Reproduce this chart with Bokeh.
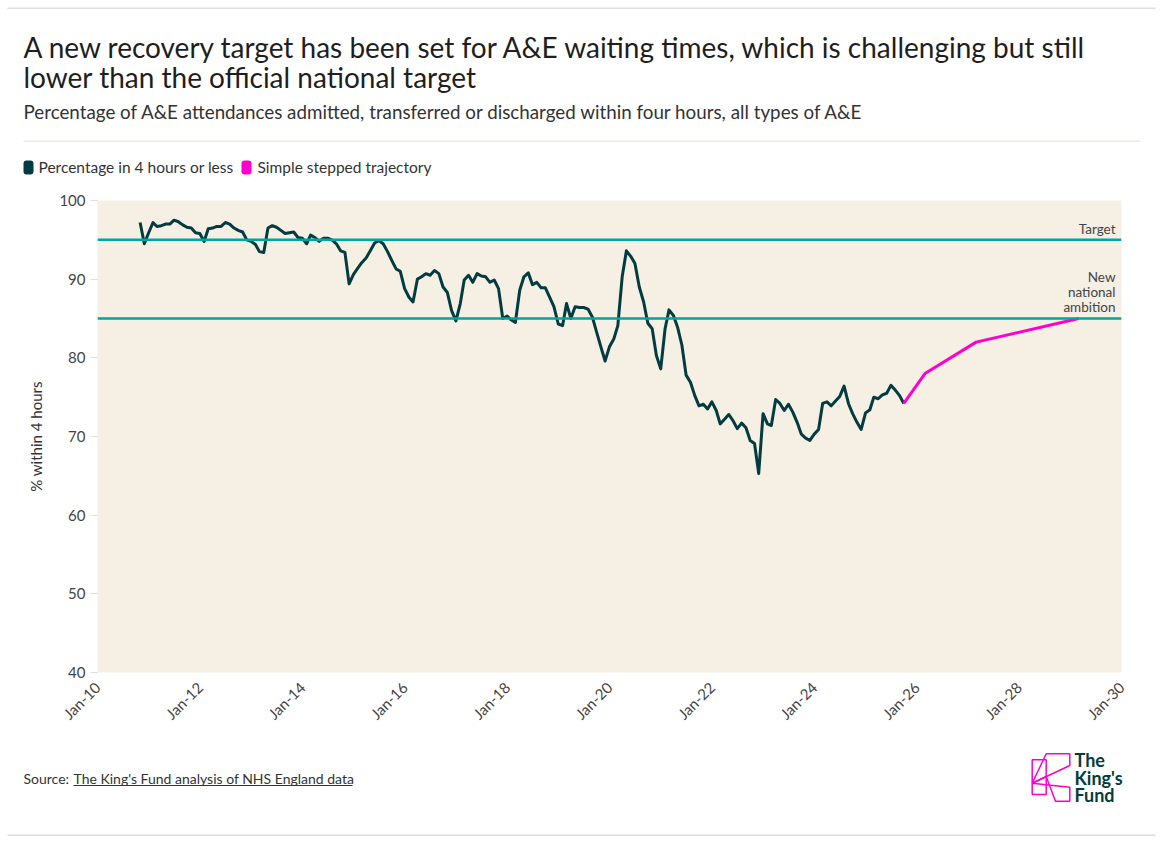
import pandas as pd
from math import pi
from bokeh.plotting import figure
from bokeh.layouts import column
from bokeh.core.properties import value
from bokeh.models import (Span, FixedTicker, DatetimeTickFormatter, Range1d,
                          ColumnDataSource)
from bokeh.embed import file_html
from bokeh.resources import INLINE

# Monthly % of A&E attendances seen within 4 hours (all types), England
pct_2010 = [97.2, 94.5]  # Nov-Dec
pct_2011 = [95.9, 97.2, 96.7, 96.8, 97.0, 97.0, 97.5, 97.3, 96.9, 96.6, 96.5, 95.9]
pct_2012 = [95.8, 94.8, 96.4, 96.5, 96.7, 96.7, 97.2, 97.0, 96.5, 96.2, 96.0, 95.0]
pct_2013 = [94.8, 94.4, 93.5, 93.4, 96.5, 96.8, 96.6, 96.2, 95.8, 95.9, 96.0, 95.3]
pct_2014 = [95.2, 94.5, 95.6, 95.3, 94.8, 95.2, 95.2, 95.0, 94.5, 93.6, 93.4, 89.4]
pct_2015 = [90.6, 91.4, 92.1, 92.7, 93.6, 94.6, 94.9, 94.5, 93.5, 92.4, 91.3, 91.0]
pct_2016 = [88.8, 87.7, 87.1, 90.0, 90.3, 90.7, 90.5, 91.1, 90.7, 89.0, 88.3, 86.0]
pct_2017 = [84.7, 86.9, 89.9, 90.5, 89.6, 90.7, 90.4, 90.3, 89.6, 89.9, 88.8, 85.0]
pct_2018 = [85.3, 84.8, 84.5, 88.6, 90.3, 90.8, 89.3, 89.6, 88.9, 88.9, 87.7, 86.5]
pct_2019 = [84.3, 84.1, 86.9, 85.0, 86.5, 86.4, 86.4, 86.2, 85.2, 83.3, 81.4, 79.6]
pct_2020 = [81.4, 82.4, 84.1, 90.3, 93.6, 92.9, 92.0, 89.0, 87.1, 84.4, 83.7, 80.3]
pct_2021 = [78.6, 83.7, 86.1, 85.4, 83.9, 81.6, 77.8, 76.9, 75.2, 73.9, 74.1, 73.5]
pct_2022 = [74.4, 73.3, 71.6, 72.2, 72.8, 72.0, 71.0, 71.7, 71.1, 69.5, 69.1, 65.3]
pct_2023 = [72.9, 71.6, 71.4, 74.7, 74.2, 73.3, 74.1, 73.1, 71.8, 70.3, 69.8, 69.5]
pct_2024 = [70.3, 70.9, 74.2, 74.4, 73.9, 74.5, 75.1, 76.4, 74.2, 72.9, 71.8, 70.9]
pct_2025 = [73.0, 73.4, 75.0, 74.8, 75.3, 75.5, 76.5, 75.9, 75.2, 74.2]  # Jan-Oct

# Recovery trajectory milestones
traj_dates = ["2025-10-01", "2026-03-01", "2027-03-01", "2029-03-01"]
traj_values = [74.2, 78.0, 82.0, 85.0]

target_value = 95
ambition_value = 85

y_ticks = [40, 50, 60, 70, 80, 90, 100]
x_tick_years = list(range(2010, 2031, 2))

pct = (pct_2010 + pct_2011 + pct_2012 + pct_2013 + pct_2014 + pct_2015 + pct_2016 +
       pct_2017 + pct_2018 + pct_2019 + pct_2020 + pct_2021 + pct_2022 + pct_2023 +
       pct_2024 + pct_2025)
months = pd.date_range("2010-11-01", periods=len(pct), freq="MS")

actual = ColumnDataSource(dict(date=months, pct=pct))
trajectory = ColumnDataSource(dict(date=pd.to_datetime(traj_dates), pct=traj_values))

DARK = "#023c40"
PINK = "#ff00cc"
TEAL = "#00a69c"
TEXT = "#333333"
FONT = "Lato"
W = 1162
HEAD_H, MAIN_H, FOOT_H = 190, 555, 98


def blank(height):
    """A bare canvas whose data units are pixels, origin at the top left."""
    f = figure(width=W, height=height, x_range=Range1d(0, W), y_range=Range1d(height, 0),
               output_backend="svg", toolbar_location=None,
               x_axis_location=None, y_axis_location=None, min_border=0,
               frame_align=False)
    f.outline_line_color = None
    f.grid.visible = False
    f.background_fill_color = "white"
    f.border_fill_color = "white"
    return f


def write(f, x, y, s, size, color=TEXT, align="left", style="normal"):
    f.text(x=[x], y=[y], text=[s], text_font=value(FONT), text_font_size=size,
           text_color=color, text_align=align, text_baseline="alphabetic",
           text_font_style=style)


# ---- heading block ----
head = blank(HEAD_H)
head.quad(left=[7, 23], right=[1155, 1140], top=[7, 140], bottom=[8.5, 141.5],
          fill_color=["#dddddd", "#efe9dc"], line_color=None)
write(head, 23, 46, "A new recovery target has been set for A&E waiting times, which is challenging but still", "28px", "#1e1e1e")
write(head, 23, 76, "lower than the official national target", "28px", "#1e1e1e")
write(head, 23, 111, "Percentage of A&E attendances admitted, transferred or discharged within four hours, all types of A&E", "18.8px")
head.quad(left=[23, 241], right=[33, 251], top=[160, 160], bottom=[174, 174],
          fill_color=[DARK, PINK], line_color=None, border_radius=3)
write(head, 38, 166, "Percentage in 4 hours or less", "15.5px")
write(head, 257, 166, "Simple stepped trajectory", "15.5px")

# ---- chart ----
p = figure(width=W, height=MAIN_H, x_axis_type="datetime", output_backend="svg",
           toolbar_location=None, frame_align=False,
           x_range=Range1d(pd.Timestamp("2010-01-01"), pd.Timestamp("2030-01-01")),
           y_range=Range1d(40, 100),
           min_border_left=97, min_border_right=41, min_border_top=10,
           min_border_bottom=73)
p.background_fill_color = "#f5efe4"
p.border_fill_color = "white"
p.outline_line_color = None
p.grid.visible = False

tick_ms = [pd.Timestamp(f"{y}-01-01").value // 10**6 for y in x_tick_years]
p.xaxis.ticker = FixedTicker(ticks=tick_ms)
p.xaxis.formatter = DatetimeTickFormatter(years="%b-%y", months="%b-%y", days="%b-%y",
                                          hours="%b-%y", minutes="%b-%y")
p.xaxis.major_label_orientation = pi / 4
p.xaxis.axis_line_color = None
p.xaxis.major_tick_line_color = None
p.xaxis.minor_tick_line_color = None
p.xaxis.major_label_standoff = 6

p.yaxis.ticker = FixedTicker(ticks=y_ticks)
p.yaxis.axis_line_color = None
p.yaxis.minor_tick_line_color = None
p.yaxis.major_tick_line_color = "#dddddd"
p.yaxis.major_tick_out = 7
p.yaxis.major_tick_in = 0
p.yaxis.major_label_standoff = 5
p.yaxis.axis_label = "% within 4 hours"
p.yaxis.axis_label_standoff = 11
p.yaxis.axis_label_text_font_style = "normal"

for ax in (p.xaxis, p.yaxis):
    ax.major_label_text_font = FONT
    ax.major_label_text_font_size = "15px"
    ax.major_label_text_color = "#444444"
    ax.axis_label_text_font = FONT
    ax.axis_label_text_font_size = "15px"
    ax.axis_label_text_color = TEXT

p.add_layout(Span(location=target_value, dimension="width", line_color=TEAL, line_width=2.5))
p.add_layout(Span(location=ambition_value, dimension="width", line_color=TEAL, line_width=2.5))

p.line("date", "pct", source=actual, line_color=DARK, line_width=3, line_join="round")
p.line("date", "pct", source=trajectory, line_color=PINK, line_width=3, line_join="round")

x_end = pd.Timestamp("2030-01-01")
p.text(x=[x_end, x_end], y=[target_value, ambition_value],
       text=["Target", "New\nnational\nambition"],
       text_font=value(FONT), text_font_size="13.5px", text_color="#444444",
       text_align="right", text_baseline="bottom", text_line_height=0.95,
       x_offset=-6, y_offset=-3)

# ---- footer ----
foot = blank(FOOT_H)
write(foot, 23, 33, "Source:", "14px")
write(foot, 73, 33, "The King's Fund analysis of NHS England data", "14px")
foot.quad(left=[73, 7], right=[352, 1155], top=[39.5, 89], bottom=[40.5, 90.5],
          fill_color=[TEXT, "#dddddd"], line_color=None)
logo_xs = [[1031.7, 1045.7, 1045.7, 1031.7],
           [1045.7, 1069.3, 1069.3, 1031.7],
           [1031.7, 1069.3, 1069.3, 1055.0, 1045.7]]
logo_ys = [[14.3, 14.3, 49.0, 49.0],
           [8.3, 8.3, 20.0, 37.7],
           [37.7, 41.7, 55.7, 55.7, 31.0]]
foot.patches(logo_xs, logo_ys, fill_color=None, line_color=PINK, line_width=1.5)
write(foot, 1074, 14, "The", "18px", DARK, style="bold")
write(foot, 1074, 32, "King's", "18px", DARK, style="bold")
write(foot, 1074, 49, "Fund", "18px", DARK, style="bold")

page = column(head, p, foot, spacing=0)
open("out.html", "w").write(file_html(page, INLINE))
